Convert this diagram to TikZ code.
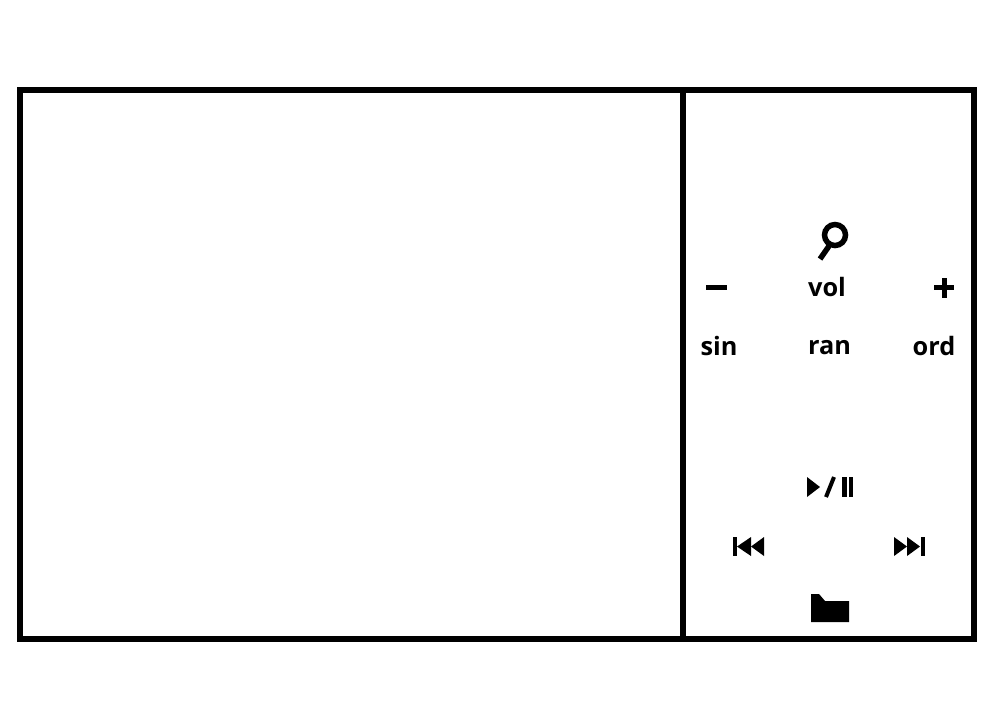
\documentclass[tikz,border=0pt]{standalone}
\usepackage{fontspec}
\setmainfont{Open Sans}
\tikzset{
	frame/.style={line width=0.06cm, line join=miter},
	label/.style={anchor=base, inner sep=0pt, font=\fontsize{7.2pt}{9pt}\selectfont\bfseries},
}
\begin{document}
\begin{tikzpicture}
	\useasboundingbox (0,0) rectangle (10,7);

	\draw[frame] (0.20,0.61) rectangle (9.74,6.10);
	\draw[frame] (6.83,0.61) -- (6.83,6.10);

	\node[label] (vol) at (8.27,4.04) {vol};
	\node[label] (sin) at (7.19,3.45) {sin};
	\node[label] (ran) at (8.295,3.46) {ran};
	\node[label] (ord) at (9.34,3.45) {ord};

	% search
	\draw[line width=0.055cm] (8.35,4.65) circle [radius=0.105];
	\draw[line width=0.055cm] (8.29,4.54) -- (8.20,4.41);

	% minus, plus
	\fill (7.06,4.105) rectangle (7.27,4.15);
	\fill (9.34,4.105) rectangle (9.54,4.15);
	\fill (9.415,4.02) rectangle (9.465,4.22);

	% play / pause
	\fill (8.07,2.23) -- (8.20,2.13) -- (8.07,2.03) -- cycle;
	\draw[line width=0.04cm] (8.26,2.03) -- (8.34,2.23);
	\fill (8.42,2.03) rectangle (8.47,2.23);
	\fill (8.485,2.03) rectangle (8.53,2.23);

	% previous
	\fill (7.33,1.44) rectangle (7.37,1.63);
	\fill (7.37,1.535) -- (7.51,1.63) -- (7.51,1.44) -- cycle;
	\fill (7.51,1.535) -- (7.64,1.63) -- (7.64,1.44) -- cycle;

	% next
	\fill (9.21,1.44) rectangle (9.25,1.63);
	\fill (9.20,1.535) -- (9.07,1.63) -- (9.07,1.44) -- cycle;
	\fill (9.07,1.535) -- (8.94,1.63) -- (8.94,1.44) -- cycle;

	% folder
	\fill (8.11,1.06) -- (8.19,1.06) -- (8.25,0.99) -- (8.49,0.99) -- (8.49,0.78) -- (8.11,0.78) -- cycle;
\end{tikzpicture}
\end{document}
